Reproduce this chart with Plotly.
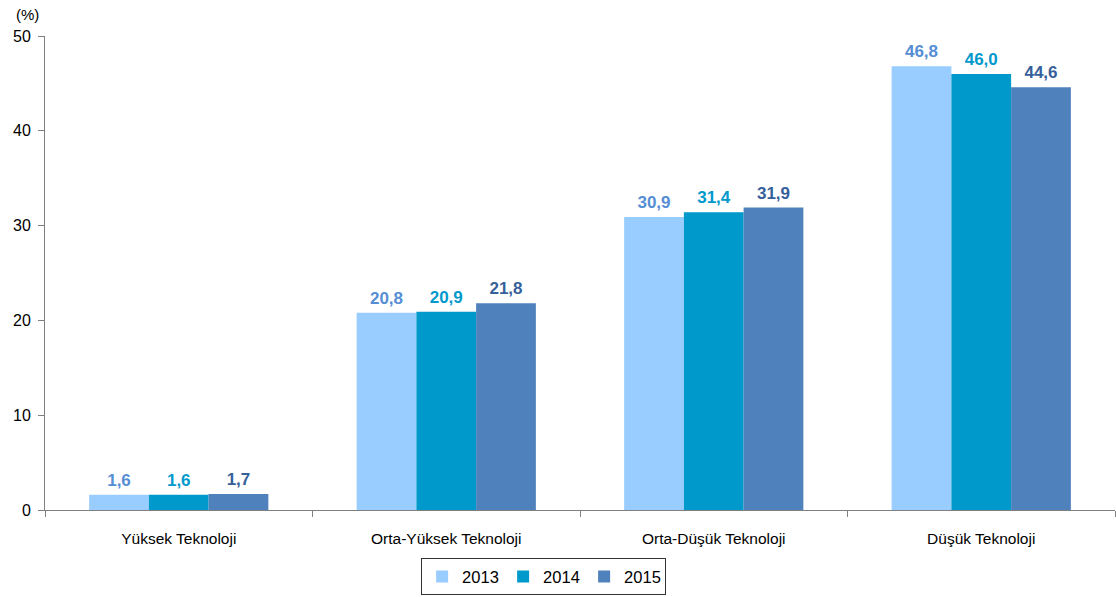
import plotly.graph_objects as go

categories = ["Yüksek Teknoloji", "Orta-Yüksek Teknoloji", "Orta-Düşük Teknoloji", "Düşük Teknoloji"]
years = ["2013", "2014", "2015"]
v2013 = [1.6, 20.8, 30.9, 46.8]
v2014 = [1.6, 20.9, 31.4, 46.0]
v2015 = [1.7, 21.8, 31.9, 44.6]
y_ticks = [0, 10, 20, 30, 40, 50]

bar_colors = ["#99CCFF", "#0099CC", "#4F81BD"]
label_colors = ["#558ED5", "#0099CC", "#35609A"]
font_family = "Arial, Liberation Sans, sans-serif"

series = list(zip(years, [v2013, v2014, v2015], bar_colors, label_colors))

fig = go.Figure()
for name, vals, bc, lc in series:
    fig.add_trace(go.Bar(
        x=categories, y=vals, name=name,
        marker=dict(color=bc, line=dict(width=0)),
        cliponaxis=False,
    ))
for name, vals, bc, lc in series:
    fig.add_trace(go.Scatter(
        x=categories, y=vals, name=name + " label", showlegend=False,
        mode="markers+text", marker=dict(size=6, opacity=0),
        texttemplate="%{y:.1f}", textposition="top center",
        textfont=dict(color=lc, size=17, family=font_family, weight="bold"),
        cliponaxis=False, hoverinfo="skip",
    ))

fig.update_layout(
    width=1116, height=597,
    margin=dict(l=45, r=1, t=36, b=87, autoexpand=False),
    paper_bgcolor="white", plot_bgcolor="white",
    barmode="group", bargap=0.33, bargroupgap=0,
    scattermode="group", scattergap=0.33,
    separators=",.",
    font=dict(family=font_family, size=15, color="#000000"),
    showlegend=True,
    legend=dict(
        orientation="h", x=0.466, xanchor="center", y=-0.141, yanchor="middle",
        bordercolor="#333333", borderwidth=1, font=dict(size=16.5),
        itemwidth=30, entrywidth=36, tracegroupgap=0,
    ),
    xaxis=dict(
        showline=True, linecolor="#808080", linewidth=1, automargin=False,
        ticks="outside", tickson="boundaries", ticklen=6, tickcolor="#808080",
        showgrid=False, tickfont=dict(size=15.5), ticklabelstandoff=14,
    ),
    yaxis=dict(
        range=[0, 50], tickvals=y_ticks, showline=True, linecolor="#808080", linewidth=1,
        ticks="outside", ticklen=6, tickcolor="#808080", showgrid=False, zeroline=False,
        tickfont=dict(size=16), automargin=False, ticklabelstandoff=4,
    ),
    annotations=[dict(text="(%)", x=0, xref="paper", xanchor="center", xshift=-18,
                      y=1, yref="paper", yanchor="middle", yshift=22, showarrow=False,
                      font=dict(size=15))],
)

fig.write_html("out.html", config={"displayModeBar": False},
               post_script="document.body.style.margin='0';document.body.style.padding='0';")
